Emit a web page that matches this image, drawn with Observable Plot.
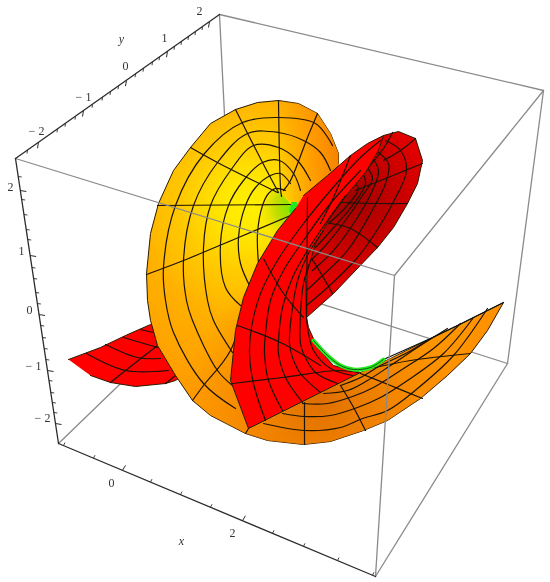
<!DOCTYPE html>
<html><head><meta charset="utf-8">
<style>html,body{margin:0;padding:0;background:#fff}svg{display:block;filter:blur(.35px)}</style>
<script src="https://cdn.jsdelivr.net/npm/d3@7"></script>
<script src="https://cdn.jsdelivr.net/npm/@observablehq/plot@0.6"></script>
</head><body>
<script>
// ---- values (picture x, y) ----
const backEdges=[[[219,14],[232,275]],[[219,14],[543,90]],[[58,443],[232,275]],[[232,275],[507,363]],[[543,90],[507,363]],[[507,363],[375,576]]];
const frontEdges=[[[15,158],[394,275]],[[394,275],[543,90]],[[394,275],[375,576]]];
const axisY=[[15,158],[219,14]], axisZ=[[15,158],[58,443]], axisX=[[58,443],[375,576]];
const yMajor=[38,83,126,167,209], yMinor=[27,57,65,75,92,102,110,118,135,143,152,159,174,181,188,195,202];
const zMajor=[190,255,314,370,423], zMinor=[176,199,214,229,239,267,278,292,303,325,337,348,359,380,392,402,412];
const xMajor=[122,242], xMinor=[63,93,150,180,210,272,303,337,372];
const labels=[["− 2",36,131],["− 1",83,97],["0",125,66],["1",164,38],["2",199,11],
 ["2",10,187],["1",21,251],["0",29,310],["− 1",33,366],["− 2",42,418],["0",111,483],["2",232,533]];
const axisNames=[["y",121,39],["x",181,541]];

const leftWing=[[68,359],[100,347],[125,335],[150,324],[180,340],[190,370],[175,380],[165,383],[135,386],[110,382],[90,375]];
const leftWingGrid=[[[86,353],[125,370],[168,370]],[[105,344],[137,357],[160,358]],[[123,337],[157,347]],[[140,329],[153,332]],[[110,382],[125,370],[157,345]],[[165,383],[175,375]]];

const orange=[[338,163],[338,153],[330,133],[317,113],[298,103],[278,100],[257,102],[235,109],[210,123],[190,147],[173,170],[158,203],[150,233],[146,273],[147,300],[150,320],[157,345],[175,375],[192,400],[210,415],[245,433],[267,440],[303,444],[330,441],[363,430],[387,420],[420,398],[447,375],[470,353],[487,330],[503,302],[457,325],[430,338],[390,358],[360,372],[320,370],[270,340],[280,260],[310,215],[345,175]];
const discRight=[[278,100],[298,103],[317,113],[330,133],[338,153],[338,163],[345,175],[310,215],[282,195]];
const tipWedge=[[293,207],[275,186],[262,205],[258,240],[262,262],[280,232]];
const discSpokes=[[[278,100],[280,187],[281,196]],[[235,109],[262,162],[278,192]],[[190,147],[217,162],[277,192]],[[157,205],[290,204]],[[146,274],[183,260],[238,237],[290,215]],[[317,113],[307,137],[290,180],[283,190]],[[192,400],[203,385],[230,350],[258,263],[273,240]]];
const discRings=[
 [[332,145],[315,123],[278,117],[242,122],[204,153],[175,205],[163,267],[165,300],[173,332],[203,383],[235,408]],
 [[330,170],[320,152],[303,140],[278,132],[247,133],[217,162],[193,205],[183,260],[186,300],[192,320],[217,370],[232,385]],
 [[310,180],[297,160],[278,147],[253,145],[230,170],[210,205],[203,247],[207,300],[213,320],[232,352]],
 [[300,190],[293,173],[279,160],[262,162],[243,180],[228,205],[220,243],[225,287],[240,305]],
 [[290,183],[280,173],[270,175],[255,187],[245,205],[238,237],[240,263],[250,287]],
 [[285,190],[275,188],[268,193],[262,205],[257,233],[258,263]]];
const wingRings=[
 [[263,423],[304,430],[340,427],[362,418],[387,410],[417,388],[453,355],[487,308]],
 [[282,413],[304,416],[330,415],[357,407],[380,397],[407,380],[443,353],[473,317]],
 [[302,403],[327,403],[352,396],[373,387],[400,370],[433,348],[460,323]],
 [[323,393],[347,390],[367,380],[390,365],[420,345],[447,328]],
 [[340,385],[360,377],[380,365],[407,352],[430,338]]];
const wingSpokes=[[[304,402],[304,444]],[[340,385],[352,405],[365,430]],[[360,373],[390,385],[422,398]],[[370,368],[410,360],[470,353]],[[245,433],[248,428]]];
const greenTip=[[291,202],[296,202],[297,207],[292,216],[289,210]];
const redDark=[[306,317],[333,293],[377,247],[393,227],[407,203],[417,183],[422,160],[415,138],[398,131],[383,135],[367,150],[345,172],[320,205],[306,250]];
const darkRings=[
 [[385,140],[400,150],[406,170],[392,203],[375,232],[357,257],[327,287],[306,305]],
 [[375,150],[388,163],[385,183],[370,213],[347,250],[320,277],[306,290]],
 [[370,155],[378,170],[372,190],[355,220],[333,250],[312,270]],
 [[365,165],[372,178],[362,195],[345,220],[325,245],[310,260]],
 [[361,170],[365,183],[352,205],[335,225],[315,247]],
 [[352,182],[358,188],[345,207],[328,223]]];
const darkSpokes=[[[407,203],[380,203],[340,202]],[[422,163],[390,176],[355,190]],[[377,247],[350,228],[330,223]],[[332,293],[310,257],[305,253]],[[415,138],[400,150],[383,160]],[[392,132],[383,148],[365,170]]];
const redBright=[[295,208],[277,230],[257,263],[243,297],[235,330],[230,380],[248,428],[360,372],[333,365],[317,347],[308,327],[306,317],[305,277],[315,243],[330,217],[348,192],[365,172],[378,150],[383,135],[367,143],[350,155],[327,175],[303,195]];
const redRings=[
 [[265,420],[253,383],[249,353],[251,327],[260,293],[277,260],[300,227],[330,190],[360,157],[380,140]],
 [[282,410],[268,380],[264,353],[265,333],[270,300],[283,270],[303,240],[330,203],[360,170]],
 [[302,402],[285,377],[278,353],[278,340],[282,307],[292,277],[307,250],[327,220],[345,195]],
 [[320,392],[300,373],[292,357],[289,343],[292,307],[298,277],[308,253],[323,230]],
 [[337,383],[315,372],[303,353],[300,343],[300,313],[303,283],[310,260]],
 [[352,375],[330,368],[313,350],[308,333],[306,317]]];
const redSpokes=[[[232,383],[282,377],[337,370],[357,372]],[[237,325],[280,342],[320,365]],[[263,258],[283,293],[303,317]],[[307,197],[306,317]],[[350,155],[333,197],[320,223]]];
const greenStrip=[[313,340],[327,355],[340,365],[353,369],[370,367],[383,359]];
const wingTopEdge=[[383,359],[430,338],[457,325],[503,302]];

// ---- helpers ----
const X=d=>d[0],Y=d=>d[1];
const fillShape=(pts,fill,stroke="#2a1a00")=>Plot.line(pts,{x:X,y:Y,fill,stroke,strokeWidth:1});
const lines=(list,stroke,w,curve="catmull-rom")=>list.map(p=>Plot.line(p,{x:X,y:Y,stroke,strokeWidth:w,curve}));
const along=([a,b],v,i)=>a[1-i]+(v-a[i])*(b[1-i]-a[1-i])/(b[i]-a[i]);
const ticks=(list,axis,byIndex,dx,dy)=>list.map(v=>{const o=along(axis,v,byIndex);
  const p=byIndex===0?[v,o]:[o,v];return {x1:p[0],y1:p[1],x2:p[0]+dx,y2:p[1]+dy};});
const link=(data,stroke,w)=>Plot.link(data,{x1:"x1",y1:"y1",x2:"x2",y2:"y2",stroke,strokeWidth:w});

const defs=()=>{
  const d=d3.create("svg:defs");
  const stops=(g,list)=>list.forEach(([o,c,a=1])=>g.append("stop").attr("offset",o).attr("stop-color",c).attr("stop-opacity",a));
  const grad=(id,cx,cy,r,list)=>stops(d.append("radialGradient").attr("id",id).attr("gradientUnits","userSpaceOnUse").attr("cx",cx).attr("cy",cy).attr("r",r),list);
  grad("gOrange",250,207,270,[[0,"#fff000"],[.1,"#ffe800"],[.24,"#ffcc00"],[.42,"#ffb000"],[.7,"#ff9c00"],[1,"#ff9000"]]);
  grad("gWing",320,398,135,[[0,"#dc6c00",.95],[.5,"#ee7e00",.75],[1,"#f58800",0]]);
  grad("gTip",293,207,36,[[0,"#70e800",1],[.5,"#b0dc00",.8],[1,"#e8e000",0]]);
  grad("gDark",352,200,90,[[0,"#a00000"],[.35,"#bb0000"],[.7,"#d40000"],[1,"#e60000"]]);
  stops(d.append("linearGradient").attr("id","gRight").attr("gradientUnits","userSpaceOnUse").attr("x1",272).attr("x2",338).attr("y1",0).attr("y2",0),
    [[0,"#ff9000",0],[.6,"#ff9000",.75],[1,"#f58400",1]]);
  return d.node();
};

const black="#1c1204";
const plot=Plot.plot({
  width:550,height:582,margin:0,
  x:{domain:[0,550],range:[0,550],axis:null},
  y:{domain:[0,582],range:[0,582],axis:null},
  style:{background:"#fff",overflow:"visible"},
  marks:[
    defs,
    ...lines(backEdges,"#8a8a8a",1.3,"linear"),
    fillShape(leftWing,"#ff0000"),
    ...lines(leftWingGrid,black,1.2),
    fillShape(orange,"url(#gOrange)"),
    Plot.line(orange,{x:X,y:Y,fill:"url(#gWing)"}),
    Plot.line(discRight,{x:X,y:Y,fill:"url(#gRight)"}),
    Plot.line(tipWedge,{x:X,y:Y,fill:"url(#gTip)"}),
    ...lines(discSpokes,black,1.2),
    ...lines(discRings,black,1.2),
    ...lines(wingRings,black,1.2),
    ...lines(wingSpokes,black,1.2),
    Plot.line(wingTopEdge,{x:X,y:Y,stroke:"#111",strokeWidth:1.3}),
    fillShape(greenTip,"#1fe81f","#1fe81f"),
    fillShape(redDark,"url(#gDark)"),
    ...lines(darkRings,black,1.2),
    ...lines(darkSpokes,black,1.2),
    fillShape(redBright,"#ff0000"),
    ...lines(redRings,black,1.2),
    ...lines(redSpokes,black,1.2),
    Plot.line(greenStrip,{x:X,y:Y,stroke:"#22ee22",strokeWidth:4,curve:"catmull-rom"}),
    Plot.line(greenStrip,{x:X,y:Y,stroke:"#103010",strokeWidth:.8,curve:"catmull-rom"}),
    ...lines(frontEdges,"#8a8a8a",1.3,"linear"),
    ...lines([axisY,axisZ,axisX],"#2b2b2b",1.3,"linear"),
    link(ticks(yMajor,axisY,0,-1,6),"#2b2b2b",1),
    link(ticks(yMinor,axisY,0,-.5,3.5),"#2b2b2b",.9),
    link(ticks(zMajor,axisZ,1,6,1),"#2b2b2b",1),
    link(ticks(zMinor,axisZ,1,3.5,.5),"#2b2b2b",.9),
    link(ticks(xMajor,axisX,0,3,-5),"#2b2b2b",1),
    link(ticks(xMinor,axisX,0,1.5,-3),"#2b2b2b",.9),
    Plot.text(labels,{x:d=>d[1],y:d=>d[2],text:d=>d[0],fontFamily:"Liberation Serif",fontSize:12,fill:"#333"}),
    Plot.text(axisNames,{x:d=>d[1],y:d=>d[2],text:d=>d[0],fontFamily:"Liberation Serif",fontStyle:"italic",fontSize:12,fill:"#333"})
  ]
});
document.body.appendChild(plot);
</script>
</body></html>
